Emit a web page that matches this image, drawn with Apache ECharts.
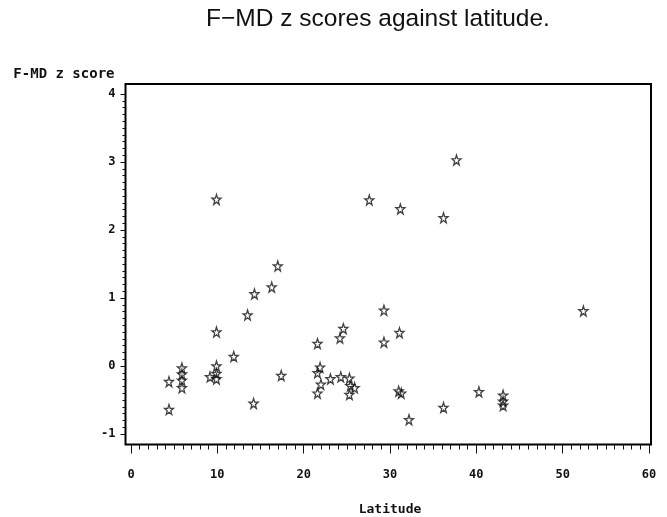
<!DOCTYPE html>
<html>
<head>
<meta charset="utf-8">
<title>F-MD z scores against latitude</title>
<script src="https://cdn.jsdelivr.net/npm/echarts@6/dist/echarts.min.js"></script>
<style>
  html, body { margin: 0; padding: 0; background: #fff; }
  #chart { width: 667px; height: 517px; }
</style>
</head>
<body>
<div id="chart"></div>
<script>
'use strict';
// F-MD z scores plotted against latitude (SAS-style scatter, star markers)

const LATITUDE = [
  4.4, 4.4, 5.9, 5.9, 5.9, 5.9, 9.15, 9.9, 9.9, 9.9, 9.9, 9.9,
  11.9, 13.5, 14.3, 14.2, 16.3, 17.0, 17.4,
  21.6, 21.9, 21.6, 22.0, 21.6, 23.1, 24.2, 24.6, 24.3,
  25.3, 25.4, 25.9, 25.3, 27.6, 29.3, 29.3, 31.1, 31.2, 31.0, 31.3, 32.2,
  36.2, 36.2, 37.7, 40.3, 43.1, 43.1, 43.1, 52.4
];
const Z_SCORE = [
  -0.23, -0.64, -0.03, -0.12, -0.21, -0.32, -0.16, 2.45, 0.5, 0.0, -0.11, -0.19,
  0.14, 0.75, 1.06, -0.55, 1.16, 1.47, -0.14,
  0.33, -0.02, -0.1, -0.27, -0.4, -0.19, 0.41, 0.55, -0.16,
  -0.18, -0.29, -0.32, -0.42, 2.44, 0.82, 0.35, 0.49, 2.31, -0.37, -0.4, -0.79,
  2.18, -0.61, 3.03, -0.38, -0.43, -0.52, -0.58, 0.81
];
const X_RANGE = [0, 60];
const Y_RANGE = [-1, 4];

const INK = '#111';
const MONO = "'DejaVu Sans Mono', 'Liberation Mono', monospace";
const STAR = 'path://M0,-10 L2.35,-3.24 L9.51,-3.09 L3.8,1.24 L5.88,8.09 L0,4 L-5.88,8.09 L-3.8,1.24 L-9.51,-3.09 L-2.35,-3.24 Z';

const points = LATITUDE.map((x, i) => [x, Z_SCORE[i]]);

const chart = echarts.init(document.getElementById('chart'), null, { renderer: 'canvas' });

chart.setOption({
  backgroundColor: '#fff',
  animation: false,
  title: {
    text: 'F\u2212MD z scores against latitude.',
    left: 373, top: 2, textAlign: 'center',
    textStyle: { fontFamily: "'Liberation Sans', Arial, sans-serif", fontWeight: 'normal', fontSize: 24.5, color: INK }
  },
  grid: [
    // frame box
    { left: 125.5, top: 84, right: 16, bottom: 72.5, show: true, borderColor: '#000', borderWidth: 2, backgroundColor: 'transparent', outerBoundsMode: 'none' },
    // data area
    { left: 131, top: 94, right: 18, bottom: 83, outerBoundsMode: 'none' }
  ],
  xAxis: [
    { gridIndex: 0, type: 'value', show: false },
    {
      gridIndex: 1, type: 'value', min: X_RANGE[0], max: X_RANGE[1], interval: 10,
      position: 'bottom', offset: 10.5,
      name: 'Latitude', nameLocation: 'middle', nameGap: 59,
      nameTextStyle: { fontFamily: MONO, fontWeight: 'bold', fontSize: 13, color: INK },
      axisLine: { show: false, onZero: false },
      axisTick: { show: true, inside: false, length: 9, lineStyle: { color: INK, width: 1 } },
      minorTick: { show: true, splitNumber: 10, length: 5, lineStyle: { color: INK, width: 1 } },
      axisLabel: { margin: 24, fontFamily: MONO, fontWeight: 'bold', fontSize: 12, color: INK },
      splitLine: { show: false }
    }
  ],
  yAxis: [
    { gridIndex: 0, type: 'value', show: false },
    {
      gridIndex: 1, type: 'value', min: Y_RANGE[0], max: Y_RANGE[1], interval: 1,
      position: 'left', offset: 5.5,
      name: 'F-MD z score', nameLocation: 'end', nameGap: 20,
      nameTextStyle: { fontFamily: MONO, fontWeight: 'bold', fontSize: 14, color: INK, align: 'right', verticalAlign: 'middle', padding: [0, 11, 0, 0] },
      axisLine: { show: false, onZero: false },
      axisTick: { show: true, inside: false, length: 5, lineStyle: { color: INK, width: 1 } },
      minorTick: { show: true, splitNumber: 10, length: 3, lineStyle: { color: INK, width: 1 } },
      axisLabel: { margin: 10, fontFamily: MONO, fontWeight: 'bold', fontSize: 12, color: INK },
      splitLine: { show: false }
    }
  ],
  series: [{
    type: 'scatter',
    xAxisIndex: 1, yAxisIndex: 1,
    data: points,
    symbol: STAR,
    symbolSize: [9, 10],
    itemStyle: { color: 'rgba(0,0,0,0)', borderColor: '#111', borderWidth: 1.3 }
  }]
});

window.addEventListener('resize', () => chart.resize());
</script>
</body>
</html>
